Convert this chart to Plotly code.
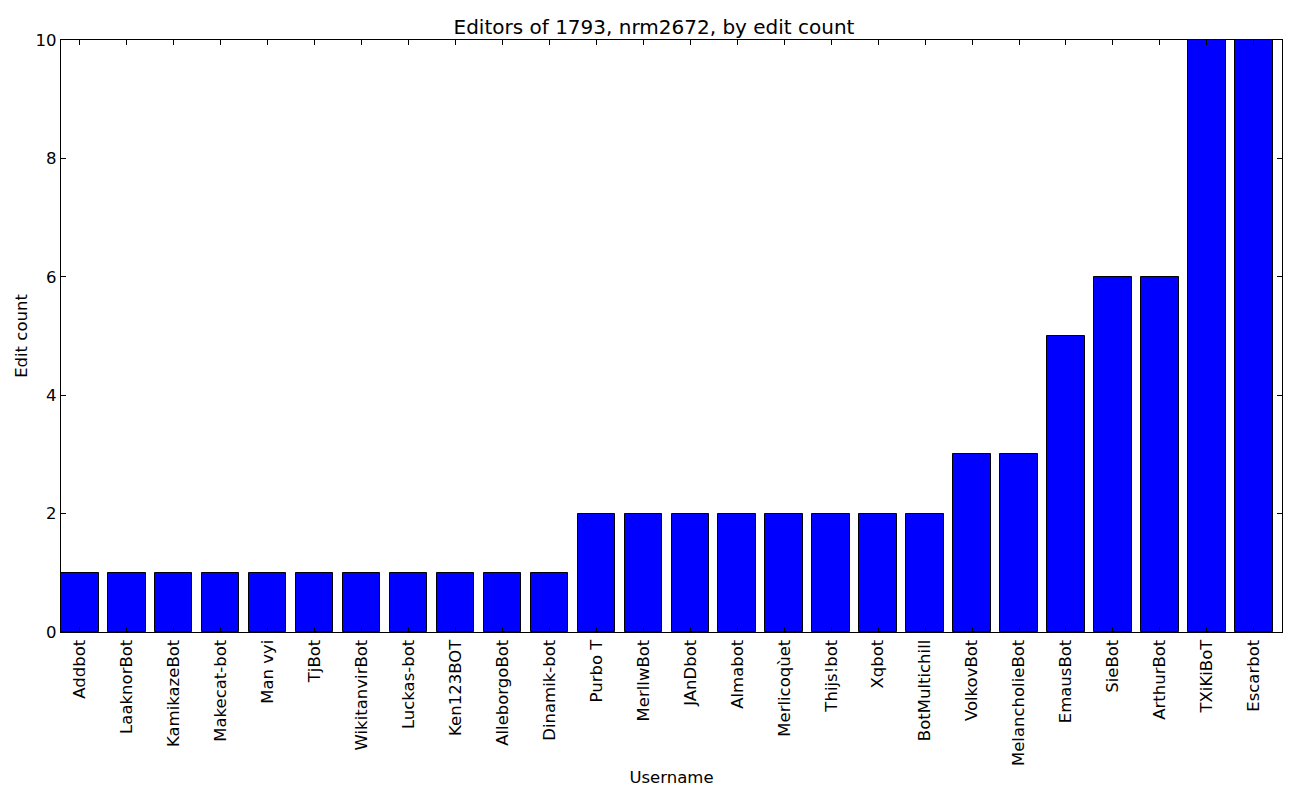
import plotly.graph_objects as go

usernames = [
    "Addbot", "LaaknorBot", "KamikazeBot", "Makecat-bot", "Man vyi", "TjBot",
    "WikitanvirBot", "Luckas-bot", "Ken123BOT", "AlleborgoBot", "Dinamik-bot",
    "Purbo T", "MerllwBot", "JAnDbot", "Almabot", "Merlicoqùet", "Thijs!bot",
    "Xqbot", "BotMultichill", "VolkovBot", "MelancholieBot", "EmausBot",
    "SieBot", "ArthurBot", "TXiKiBoT", "Escarbot",
]
edit_counts = [1, 1, 1, 1, 1, 1, 1, 1, 1, 1, 1,
               2, 2, 2, 2, 2, 2, 2, 2,
               3, 3, 5, 6, 6, 10, 10]

font = "DejaVu Sans, sans-serif"


def main():
    fig = go.Figure(go.Bar(
        x=list(range(len(usernames))),
        y=edit_counts,
        width=0.8,
        marker={"color": "#0000ff", "line": {"color": "black", "width": 1}},
    ))

    axis_common = dict(
        showline=True, linecolor="black", linewidth=1.2, mirror="ticks",
        ticks="inside", ticklen=5, tickcolor="black", showgrid=False,
        zeroline=False, automargin=False,
        tickfont={"size": 16.5, "color": "black"},
    )
    # page body has an 8px margin, so the figure is sized to fit inside it
    fig.update_layout(
        width=1292, height=792,
        margin={"l": 53, "r": 18, "t": 32, "b": 168},
        paper_bgcolor="white", plot_bgcolor="white",
        font={"family": font, "color": "black"},
        title={"text": "Editors of 1793, nrm2672, by edit count",
               "x": 0.5, "xanchor": "center", "y": 0.976, "yanchor": "middle",
               "font": {"size": 20}},
        xaxis=dict(
            axis_common, range=[-0.4, len(usernames) - 0.4],
            tickmode="array", tickvals=list(range(len(usernames))),
            ticktext=usernames, tickangle=-90,
            title={"text": "Username", "font": {"size": 16.5}, "standoff": 6},
        ),
        yaxis=dict(
            axis_common, range=[0, 10], dtick=2,
            title={"text": "Edit count", "font": {"size": 16.5}, "standoff": 3},
        ),
        bargap=0,
        showlegend=False,
    )
    fig.write_html("out.html")


if __name__ == "__main__":
    main()
